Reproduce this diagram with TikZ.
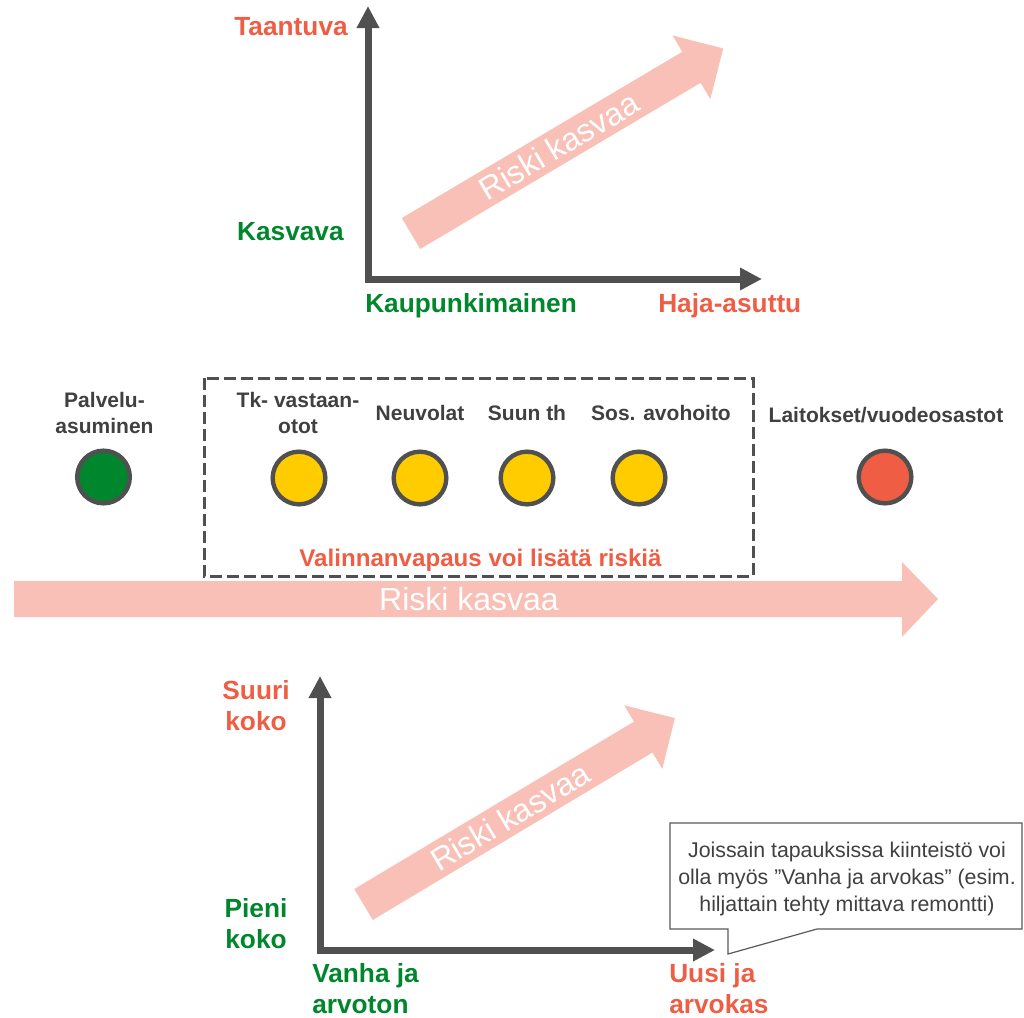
\documentclass[tikz,border=0pt]{standalone}
\usepackage{fontspec}
\setmainfont{Liberation Sans}
\usetikzlibrary{positioning,arrows.meta,calc}

\definecolor{riskred}{HTML}{EF5E44}
\definecolor{lowgreen}{HTML}{00862C}
\definecolor{midyellow}{HTML}{FFCC00}
\definecolor{axisgray}{HTML}{505050}
\definecolor{riskpink}{HTML}{F8C0B6}
\definecolor{labelgray}{HTML}{404040}
\definecolor{notegray}{HTML}{595959}

\begin{document}
\begin{tikzpicture}[x=0.75pt, y=-0.75pt,
    axis/.style={draw=axisgray, line width=5.25pt, line join=miter,
      {Triangle[length=16.5pt,width=16pt]}-{Triangle[length=16.5pt,width=16pt]}},
    risk/.style={fill=riskpink},
    risktext/.style={text=white, font=\fontsize{24}{28}\selectfont, inner sep=0pt},
    axlabel/.style={font=\bfseries\fontsize{19.7}{23.5}\selectfont, inner sep=0pt},
    svclabel/.style={font=\bfseries\fontsize{15.75}{19.5}\selectfont, text=labelgray, inner sep=0pt, align=center},
    light/.style={circle, draw=axisgray, line width=3.3pt, minimum size=39.5pt, inner sep=0pt}]
  \useasboundingbox (0,0) rectangle (1024,1017);

  % alue: kaupunkimainen - haja-asuttu
  \coordinate (o1) at (368,279);
  \coordinate (y1) at (368,6);
  \coordinate (x1) at (762,279);
  \begin{scope}[shift={(411,233.5)}, rotate=30.65]
    \fill[risk] (0,-18) -- (326,-18) -- (326,-37) -- (363,0) -- (326,37) -- (326,18) -- (0,18) -- cycle;
    \node(r1) [risktext, transform shape] at (172,0) {Riski kasvaa};
  \end{scope}
  \draw[axis] (y1) -- (o1) -- (x1);
  \node(taantuva) [axlabel, text=riskred, anchor=base east] at (348,35) {Taantuva};
  \node(kasvava) [axlabel, text=lowgreen, anchor=base east] at (344,240) {Kasvava};
  \node(kaupunki) [axlabel, text=lowgreen, anchor=base west] at (365,312) {Kaupunkimainen};
  \node(haja) [axlabel, text=riskred, anchor=base west] at (658,312) {Haja-asuttu};

  % palvelut
  \fill[risk] (14,581) -- (902,581) -- (902,562) -- (938,599) -- (902,637) -- (902,617) -- (14,617) -- cycle;
  \node(r2) [risktext] at (469,599) {Riski kasvaa};
  \draw[axisgray, line width=2.25pt, dash pattern=on 9pt off 3.75pt] (204,378) rectangle (753,576);
  \node(valinta) [font=\bfseries\fontsize{18.1}{21}\selectfont, text=riskred, inner sep=0pt, anchor=base] at (480.5,566.5) {Valinnanvapaus voi lisätä riskiä};

  \node(c1) [light, fill=lowgreen] at (103.5,477) {};
  \node(c2) [light, fill=midyellow] at (299,478) {};
  \node(c3) [light, fill=midyellow] at (420,478) {};
  \node(c4) [light, fill=midyellow] at (527,478) {};
  \node(c5) [light, fill=midyellow] at (639,478) {};
  \node(c6) [light, fill=riskred] at (885,477) {};

  \node(palvelu) [svclabel] at (104.5,413) {Palvelu-\\asuminen};
  \node(tk) [svclabel] at (298,413) {Tk- vastaan-\\otot};
  \node(neuvola) [svclabel] at (420,413) {Neuvolat};
  \node(suun) [svclabel] at (527,413) {Suun th};
  \node(sos) [svclabel] at (661,413) {Sos. avohoito};
  \node(laitos) [svclabel] at (886,415) {Laitokset/vuodeosastot};

  % kiinteistö: vanha - uusi
  \coordinate (o2) at (320,950);
  \coordinate (y2) at (320,676);
  \coordinate (x2) at (715,950);
  \begin{scope}[shift={(363.5,904.5)}, rotate=30.9]
    \fill[risk] (0,-18) -- (326,-18) -- (326,-37) -- (363,0) -- (326,37) -- (326,18) -- (0,18) -- cycle;
    \node(r3) [risktext, transform shape] at (171,0) {Riski kasvaa};
  \end{scope}
  \draw[axis] (y2) -- (o2) -- (x2);
  \node(suuri) [axlabel, align=center, text=riskred] at (256,705.5) {Suuri\\koko};
  \node(pieni) [axlabel, align=center, text=lowgreen] at (256,923.5) {Pieni\\koko};
  \node(vanha) [axlabel, align=left, text=lowgreen, anchor=west] at (312,988.5) {Vanha ja\\arvoton};
  \node(uusi) [axlabel, align=left, text=riskred, anchor=west] at (669,988.5) {Uusi ja\\arvokas};

  % huomautus
  \coordinate (tip) at (728,954);
  \draw[notegray, line width=0.9pt] (670,823) -- (1022,823) -- (1022,929) -- (817,929) -- (tip) -- (728,929) -- (670,929) -- cycle;
  \node(note) [font=\fontsize{16}{20.6}\selectfont, text=labelgray, align=center, inner sep=0pt] at (847,879)
    {Joissain tapauksissa kiinteistö voi\\olla myös ”Vanha ja arvokas” (esim.\\hiljattain tehty mittava remontti)};
\end{tikzpicture}
\end{document}
